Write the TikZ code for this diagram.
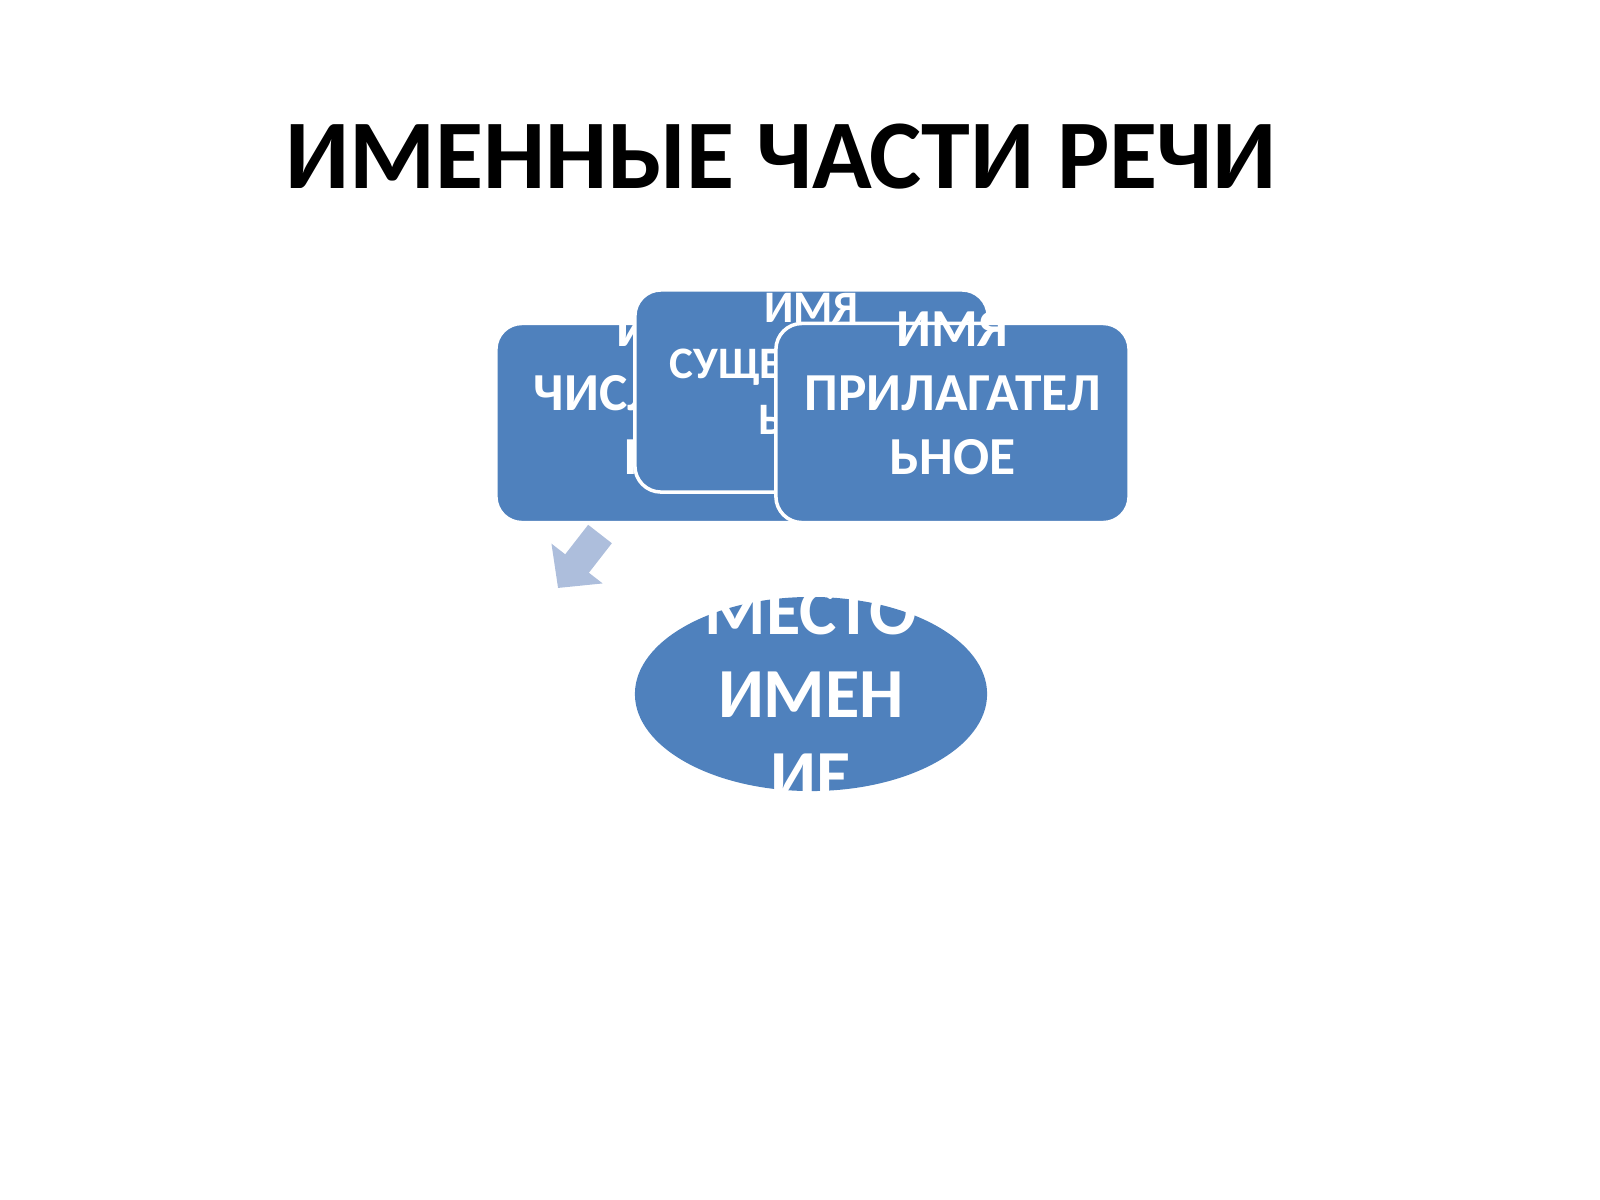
\documentclass[tikz,border=0pt]{standalone}
\usepackage{fontspec}
\setmainfont{Carlito}
\usetikzlibrary{arrows.meta,shapes.geometric}
\definecolor{partblue}{HTML}{4F81BD}
\definecolor{arrowblue}{HTML}{ADBEDC}
\tikzset{wordbox/.style={
  shape=rectangle,
  rounded corners=0.26cm,
  fill=partblue,
  draw=white,
  line width=1pt,
  minimum width=3.53cm,
  minimum height=1.99cm,
  },
  wordtext/.style={
  text=white,
  align=center,
  inner sep=0pt,
  font=\bfseries\fontsize{15.2}{18.2}\selectfont,
  },
  pronoun/.style={
  shape=ellipse,
  fill=partblue,
  minimum width=3.52cm,
  minimum height=1.94cm,
  },
  arrowstyle/.style={
  draw=arrowblue,
  line width=0.3cm,
  -{Triangle[width=0.63cm,length=0.31cm]},
  }
  }
\begin{document}
\begin{tikzpicture}[x=0.01cm,y=-0.01cm]
  \useasboundingbox (0,0) rectangle (1600,1200);
  \node[font=\bfseries\fontsize{28}{32}\selectfont] (title) at (781,157) {ИМЕННЫЕ ЧАСТИ РЕЧИ};

  % boxes, each one lies over the one before
  \node[wordbox] (num) at (672.5,423) {};
  \node[wordtext] (numT) at (672.5,393) {ИМЯ\\ЧИСЛИТЕЛЬ\\НОЕ};
  \node[wordbox, minimum height=2.02cm] (noun) at (811.5,391) {};
  \node[wordtext, font=\bfseries\fontsize{12.8}{16}\selectfont] (nounT) at (811.5,364) {ИМЯ\\СУЩЕСТВИТЕЛ\\ЬНОЕ};
  \node[wordbox] (adj) at (952.5,423) {};
  \node[wordtext] (adjT) at (952.5,393) {ИМЯ\\ПРИЛАГАТЕЛ\\ЬНОЕ};

  \coordinate (arrS) at (600,534);
  \coordinate (arrE) at (558,588);
  \draw[arrowstyle] (arrS) -- (arrE);

  \node[pronoun] (pron) at (811,694) {};
  \node[wordtext, font=\bfseries\fontsize{20}{23.5}\selectfont] (pronT) at (811,694) {МЕСТО\\ИМЕН\\ИЕ};
\end{tikzpicture}
\end{document}
